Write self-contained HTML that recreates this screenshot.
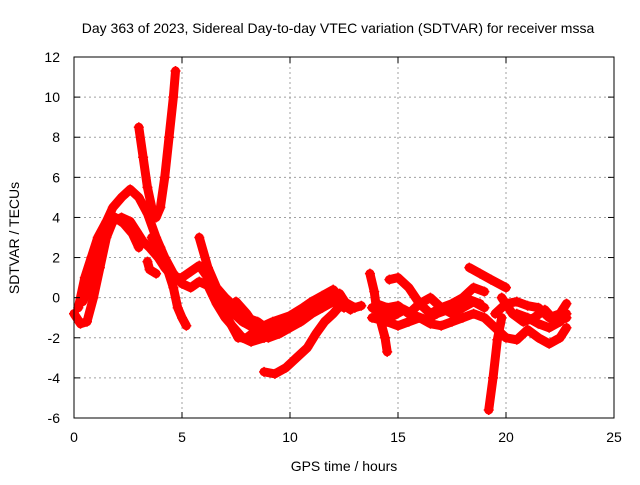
<!DOCTYPE html>
<html><head><meta charset="utf-8"><style>
body{margin:0;background:#fff}
svg text{font-family:"Liberation Sans",sans-serif;font-size:14px;fill:#000}
</style></head><body>
<svg width="640" height="480" id="c" xmlns="http://www.w3.org/2000/svg">
<rect width="640" height="480" fill="#fff"/>
<text x="338" y="33" text-anchor="middle">Day 363 of 2023, Sidereal Day-to-day VTEC variation (SDTVAR) for receiver mssa</text>
<text x="344" y="471" text-anchor="middle">GPS time / hours</text>
<text transform="translate(19,238) rotate(-90)" text-anchor="middle">SDTVAR / TECUs</text>
<g id="grid"></g><g id="marks"></g><g id="axes"></g>
</svg>
<script>
const xTicks=[0,5,10,15,20,25];
const yTicks=[-6,-4,-2,0,2,4,6,8,10,12];
const track1=[[0,-0.8],[0.3,-1.3],[0.6,-1.2],[0.9,0],[1.2,1.5],[1.5,3],[1.8,3.8],[2.2,4],[2.6,3.8],[2.9,3.3],[3.2,2.8],[3.5,2.5],[3.9,2],[4.2,1.5],[4.6,1],[5,1],[5.4,1.3],[5.8,1.6],[6.2,1.0],[6.6,0],[7,-0.5],[7.4,-0.8],[7.8,-1.2],[8.3,-1.5],[8.8,-2],[9.3,-1.8],[9.8,-1.3],[10.3,-1],[10.8,-0.6],[11.3,-0.4],[11.8,0],[12.3,0.2],[12.6,-0.3],[13,-0.5]];
const track2=[[0.2,-0.5],[0.5,1],[0.8,2],[1.1,3],[1.5,3.8],[1.8,4.5],[2.2,5],[2.6,5.4],[3,5],[3.4,4.2],[3.8,3],[4.2,2],[4.6,1.2],[5,0.7],[5.4,0.5],[5.8,0.8],[6.2,0.6],[6.6,-0.3],[7,-1],[7.4,-1.5],[7.8,-2],[8.2,-2.2],[8.8,-2],[9.5,-1.5]];
const track3=[[3,8.5],[3.2,7],[3.4,5.5],[3.6,4.5],[3.8,4],[4,4.5],[4.2,6],[4.4,8],[4.6,10],[4.7,11.3]];
const track4=[[3.6,3],[4,2.5],[4.3,1.5],[4.6,0.5],[4.8,-0.5],[5,-1],[5.2,-1.4]];
const track5=[[3.4,1.8],[3.5,1.4],[3.8,1.2]];
const track6=[[5.8,3],[6.2,1.5],[6.6,0.5],[7,0],[7.5,-0.5],[8,-1],[8.5,-1.2],[9,-1.6],[9.5,-1.4],[10,-1]];
const track7=[[8.8,-3.7],[9.3,-3.8],[9.8,-3.5],[10.3,-3],[10.8,-2.5],[11.2,-1.8],[11.6,-1.2],[12,-0.8],[12.4,-0.3],[12.8,-0.6]];
const track8=[[6.8,-0.5],[7.2,-1.2],[7.6,-2],[8,-2],[8.6,-1.5],[9.2,-1.2],[10,-0.9],[10.6,-0.5],[11,-0.2],[11.5,0.1],[12,0.4],[12.5,-0.2],[13,-0.5],[13.3,-0.4]];
const track9=[[13.7,1.2],[13.9,0.3],[14,-0.5],[14.2,-1.2],[14.4,-2],[14.5,-2.7]];
const track10=[[14.6,0.9],[15,1],[15.5,0.5],[16,-0.3],[16.5,-0.8],[17,-0.5],[17.5,-0.3],[18,0],[18.5,0.5],[19,0.3]];
const track11=[[13.8,-1],[14.5,-1.2],[15,-1.4],[15.5,-1.2],[16,-1],[16.5,-1.3],[17,-1.4],[17.5,-1.2],[18,-1.0],[18.5,-0.8],[19,-1],[19.5,-1.5],[20,-2],[20.5,-2.1],[21,-1.6],[21.5,-2],[22,-2.3],[22.5,-2],[22.8,-1.5]];
const track12=[[18.3,1.5],[18.8,1.2],[19.3,0.9],[20,0.5]];
const track13=[[19.2,-5.6],[19.4,-4],[19.6,-2.1],[19.8,-1]];
const track14=[[19.5,-0.8],[20,-0.3],[20.5,-0.2],[21,-0.4],[21.5,-0.5],[22,-1],[22.5,-0.8],[22.8,-0.3]];
const track15=[[19.8,0],[20.3,-0.8],[20.8,-1.2],[21.3,-1],[21.8,-0.6],[22.3,-1.2],[22.8,-1]];
const track16=[[14,-0.3],[14.5,-0.5],[15,-0.4],[15.5,-0.8],[16,-0.3],[16.5,0],[17,-0.5],[17.5,-0.8],[18,-0.5],[18.5,-0.2],[19,-0.5]];
const track17=[[0.4,-0.2],[0.7,0.5],[1,1.5],[1.3,2.5],[1.6,3.5],[1.9,4],[2.3,3.7],[2.7,3.2],[3,2.5]];
const track18=[[7.5,-0.2],[8,-0.8],[8.5,-1.6],[9,-2],[9.5,-1.8],[10,-1.5],[10.5,-1.2],[11,-0.8],[11.5,-0.5],[12,-0.2],[12.5,-0.5]];
const track19=[[13.8,-0.5],[14.3,-0.8],[14.8,-0.9],[15.3,-0.6],[15.8,-0.9],[16.3,-1.1],[16.8,-0.8],[17.3,-0.6],[17.8,-0.3],[18.3,-0.1],[18.8,-0.3]];
const track20=[[20.5,-0.8],[21,-1],[21.5,-1.3],[22,-1.5],[22.5,-1.2],[22.8,-0.8]];
const tracks=[track1,track2,track3,track4,track5,track6,track7,track8,track9,track10,track11,track12,track13,track14,track15,track16,track17,track18,track19,track20];

const L=74,R=614,T=57,B=418,xmin=0,xmax=25,ymin=-6,ymax=12;
const X=v=>L+(v-xmin)/(xmax-xmin)*(R-L);
const Y=v=>B-(v-ymin)/(ymax-ymin)*(B-T);
const NS='http://www.w3.org/2000/svg';
function mk(tag,parent,attrs){const e=document.createElementNS(NS,tag);for(const k in attrs)e.setAttribute(k,attrs[k]);parent.appendChild(e);return e;}
const grid=document.getElementById('grid'),axes=document.getElementById('axes'),marks=document.getElementById('marks');
xTicks.forEach(t=>{
  if(t>xmin&&t<xmax){const g=mk('line',grid,{x1:X(t),x2:X(t),y1:T,y2:B,stroke:'#a0a0a0','stroke-dasharray':'2,3'});
  
  }
  mk('line',axes,{x1:X(t),x2:X(t),y1:B,y2:B-6,stroke:'#000'});
  mk('line',axes,{x1:X(t),x2:X(t),y1:T,y2:T+6,stroke:'#000'});
  const tx=mk('text',axes,{x:X(t),y:B+24,'text-anchor':'middle'});tx.textContent=t;
  
  
});
yTicks.forEach(t=>{
  if(t>ymin&&t<ymax){const g=mk('line',grid,{x1:L,x2:R,y1:Y(t),y2:Y(t),stroke:'#a0a0a0','stroke-dasharray':'2,3'});
  
  }
  mk('line',axes,{x1:L,x2:L+6,y1:Y(t),y2:Y(t),stroke:'#000'});
  mk('line',axes,{x1:R,x2:R-6,y1:Y(t),y2:Y(t),stroke:'#000'});
  const tx=mk('text',axes,{x:L-14,y:Y(t)+5,'text-anchor':'end'});tx.textContent=t;
  
  
});
const fr=mk('rect',axes,{x:L,y:T,width:R-L,height:B-T,fill:'none',stroke:'#000'});


tracks.forEach(tr=>{
  const g=mk('g',marks,{});
  
  
  mk('polyline',g,{points:tr.map(p=>X(p[0])+','+Y(p[1])).join(' '),fill:'none',stroke:'#f00','stroke-width':9,'stroke-linejoin':'round','stroke-linecap':'round'});
  tr.forEach(p=>{
    const m=mk('path',g,{d:`M${X(p[0])-5},${Y(p[1])}h10M${X(p[0])},${Y(p[1])-5}v10`,stroke:'#f00','stroke-width':1.5});
    
    
  });
});
</script>
</body></html>
